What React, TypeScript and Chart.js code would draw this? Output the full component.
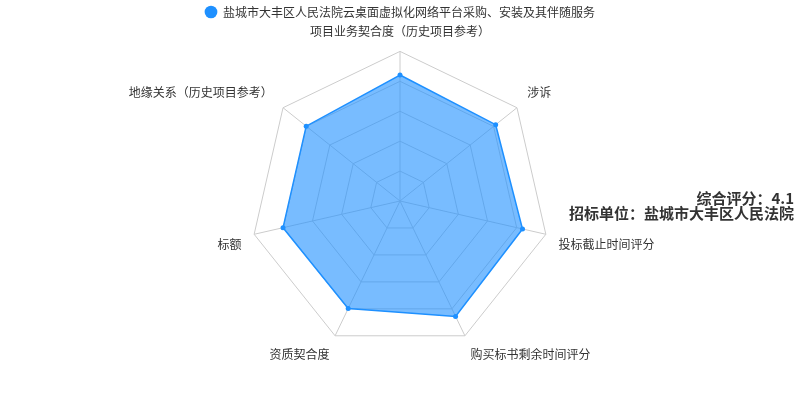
import React, { useEffect, useRef } from "react";
import { Chart, registerables } from "chart.js";

Chart.register(...registerables);

const seriesName = "盐城市大丰区人民法院云桌面虚拟化网络平台采购、安装及其伴随服务";
const categories = [
  "项目业务契合度（历史项目参考）",
  "涉诉",
  "投标截止时间评分",
  "购买标书剩余时间评分",
  "资质契合度",
  "标额",
  "地缘关系（历史项目参考）",
];
const scores = [4.21, 4.09, 4.2, 4.28, 3.99, 4.01, 4.01];
const sideLines = ["综合评分：4.1", "招标单位：盐城市大丰区人民法院"];

const FONT = '"Noto Sans CJK SC", "Noto Sans", sans-serif';

const sideTextPlugin = {
  id: "sideText",
  afterLayout(chart: any) {
    // let the compact legend draw its full text height (avoid clipping)
    if (chart.legend) {
      chart.legend.bottom = chart.legend.top + 30;
      chart.legend.height = 30;
    }
  },
  afterDraw(chart: any) {
    const ctx = chart.ctx;
    ctx.save();
    ctx.font = `bold 15px ${FONT}`;
    ctx.fillStyle = "#333";
    ctx.textAlign = "right";
    ctx.textBaseline = "middle";
    sideLines.forEach((t, i) => {
      ctx.fillText(t, 794, 198 + i * 15);
    });
    ctx.restore();
  },
};

export default function App() {
  const ref = useRef<HTMLCanvasElement>(null);
  useEffect(() => {
    if (!ref.current) return;
    Chart.defaults.font.family = FONT;
    const chart = new Chart(ref.current, {
      type: "radar",
      data: {
        labels: categories,
        datasets: [
          {
            label: seriesName,
            data: scores,
            backgroundColor: "rgba(30,144,255,0.6)",
            borderColor: "#1e90ff",
            borderWidth: 1.5,
            pointRadius: 2.5,
            pointBackgroundColor: "#1e90ff",
            pointBorderWidth: 0,
            pointStyle: "circle",
          },
        ],
      },
      options: {
        animation: false,
        responsive: true,
        maintainAspectRatio: false,
        layout: { padding: { top: 0, bottom: 30, left: 0, right: 0 } },
        plugins: {
          legend: {
            position: "top",
            maxHeight: 15,
            labels: {
              usePointStyle: true,
              pointStyle: "circle",
              boxHeight: 9,
              padding: 6,
              color: "#333",
              font: { size: 12, family: FONT },
            },
          },
          tooltip: { enabled: false },
        },
        scales: {
          r: {
            min: 0,
            max: 5,
            beginAtZero: true,
            ticks: { display: false, stepSize: 1 },
            grid: { color: "#ccc", lineWidth: 1, circular: false },
            angleLines: { color: "#ccc", lineWidth: 1 },
            pointLabels: {
              color: "#333",
              padding: 13,
              font: { size: 12, family: FONT },
            },
          },
        },
      },
      plugins: [sideTextPlugin],
    });
    return () => chart.destroy();
  }, []);
  return (
    <div style={{ position: "fixed", left: 0, top: 0, width: 800, height: 400 }}>
      <canvas ref={ref} />
    </div>
  );
}
